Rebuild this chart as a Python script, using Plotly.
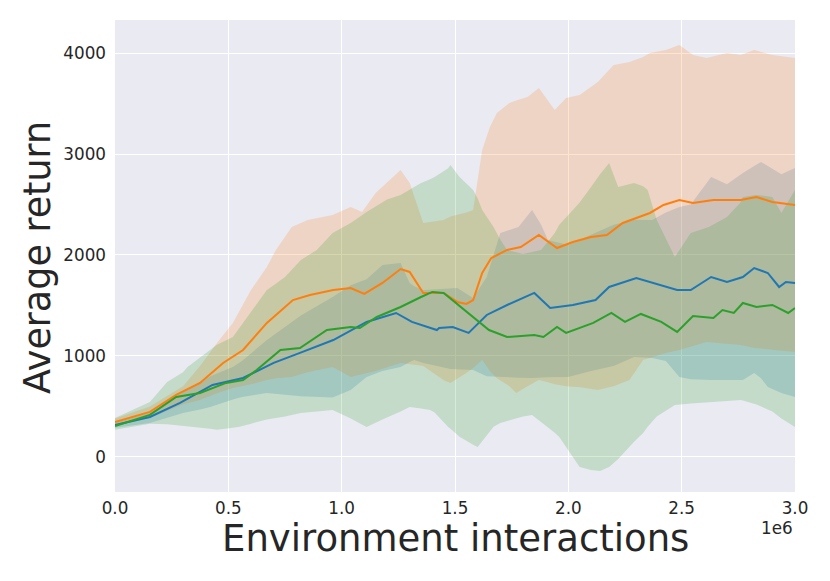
import plotly.graph_objects as go

# ---------------- data (x in millions of interactions) ----------------
blue_x = [0.0, 0.154, 0.287, 0.43, 0.565, 0.70, 0.816, 0.963, 1.11, 1.24, 1.31, 1.42, 1.43, 1.49, 1.56, 1.64, 1.73, 1.85, 1.92, 2.02, 2.12, 2.18, 2.30, 2.37, 2.48, 2.54, 2.63, 2.70, 2.77, 2.82, 2.88, 2.93, 2.96, 3.0]
blue_y = [317, 396, 535, 713, 782, 931, 1030, 1158, 1337, 1426, 1337, 1257, 1277, 1287, 1228, 1406, 1505, 1624, 1475, 1505, 1554, 1683, 1772, 1723, 1653, 1653, 1782, 1733, 1782, 1871, 1822, 1683, 1733, 1723]

orange_x = [0.0, 0.154, 0.27, 0.375, 0.477, 0.565, 0.67, 0.785, 0.86, 0.963, 1.04, 1.10, 1.18, 1.26, 1.30, 1.36, 1.45, 1.51, 1.55, 1.58, 1.62, 1.66, 1.73, 1.79, 1.87, 1.95, 2.02, 2.10, 2.17, 2.24, 2.36, 2.42, 2.49, 2.55, 2.64, 2.76, 2.83, 2.90, 3.0]
orange_y = [347, 446, 614, 733, 931, 1059, 1327, 1554, 1604, 1653, 1673, 1614, 1723, 1861, 1832, 1624, 1624, 1535, 1515, 1554, 1822, 1970, 2050, 2079, 2198, 2069, 2129, 2178, 2198, 2317, 2416, 2495, 2545, 2515, 2545, 2545, 2574, 2525, 2495]

green_x = [0.0, 0.154, 0.27, 0.375, 0.49, 0.565, 0.625, 0.73, 0.816, 0.935, 1.04, 1.08, 1.155, 1.26, 1.35, 1.40, 1.45, 1.51, 1.58, 1.65, 1.73, 1.85, 1.89, 1.95, 1.99, 2.11, 2.19, 2.25, 2.32, 2.41, 2.48, 2.55, 2.64, 2.68, 2.73, 2.77, 2.83, 2.90, 2.97, 3.0]
green_y = [307, 416, 594, 634, 733, 762, 861, 1059, 1079, 1257, 1287, 1277, 1386, 1485, 1584, 1634, 1624, 1515, 1386, 1257, 1188, 1208, 1188, 1287, 1228, 1327, 1426, 1337, 1416, 1337, 1238, 1396, 1376, 1455, 1426, 1525, 1485, 1505, 1426, 1475]

# ---------------- bands (lower / upper) ----------------
blue_band_x = [0.0, 0.154, 0.3, 0.375, 0.42, 0.52, 0.56, 0.67, 0.82, 0.96, 1.04, 1.11, 1.18, 1.26, 1.30, 1.32, 1.36, 1.48, 1.51, 1.58, 1.64, 1.70, 1.78, 1.84, 1.88, 1.91, 2.0, 2.1, 2.2, 2.29, 2.37, 2.43, 2.49, 2.54, 2.63, 2.70, 2.77, 2.82, 2.85, 2.88, 2.94, 3.0]
blue_lo = [290, 337, 436, 470, 495, 570, 594, 634, 600, 590, 663, 792, 850, 891, 940, 960, 931, 870, 865, 861, 800, 790, 785, 782, 785, 790, 792, 850, 900, 990, 980, 950, 792, 770, 762, 762, 762, 832, 780, 693, 634, 594]
blue_hi = [337, 436, 640, 733, 800, 891, 950, 1158, 1400, 1584, 1700, 1760, 1900, 1921, 1723, 1690, 1653, 1665, 1673, 1574, 1782, 2218, 2277, 2445, 2300, 2149, 2100, 2200, 2300, 2350, 2346, 2420, 2475, 2500, 2772, 2700, 2812, 2880, 2921, 2880, 2800, 2861]

orange_band_x = [0.0, 0.154, 0.3, 0.375, 0.45, 0.52, 0.60, 0.67, 0.71, 0.78, 0.85, 0.96, 1.04, 1.09, 1.15, 1.26, 1.30, 1.36, 1.45, 1.48, 1.55, 1.58, 1.62, 1.654, 1.685, 1.74, 1.77, 1.82, 1.87, 1.91, 1.94, 1.99, 2.05, 2.13, 2.20, 2.27, 2.33, 2.36, 2.43, 2.49, 2.55, 2.61, 2.70, 2.76, 2.82, 2.90, 3.0]
orange_lo = [310, 386, 520, 564, 630, 683, 720, 762, 780, 792, 840, 891, 792, 820, 850, 931, 920, 900, 760, 733, 832, 880, 960, 850, 780, 700, 634, 700, 762, 740, 720, 700, 690, 663, 700, 762, 960, 980, 1030, 1060, 1100, 1139, 1120, 1109, 1080, 1059, 1040]
orange_hi = [380, 500, 700, 900, 1129, 1327, 1653, 1881, 2050, 2277, 2346, 2396, 2475, 2425, 2614, 2842, 2713, 2317, 2346, 2380, 2420, 2445, 3040, 3267, 3406, 3505, 3530, 3564, 3653, 3535, 3436, 3554, 3584, 3713, 3881, 3911, 3960, 4000, 4030, 4079, 3980, 3950, 4000, 3980, 4030, 3980, 3950]

green_band_x = [0.0, 0.154, 0.23, 0.3, 0.32, 0.42, 0.45, 0.52, 0.55, 0.60, 0.67, 0.70, 0.75, 0.82, 0.89, 0.96, 1.04, 1.11, 1.18, 1.2, 1.26, 1.30, 1.35, 1.39, 1.41, 1.47, 1.48, 1.52, 1.58, 1.60, 1.62, 1.67, 1.70, 1.73, 1.80, 1.84, 1.88, 1.94, 1.96, 2.02, 2.05, 2.10, 2.14, 2.18, 2.22, 2.25, 2.29, 2.33, 2.35, 2.39, 2.47, 2.54, 2.60, 2.62, 2.70, 2.76, 2.77, 2.83, 2.85, 2.90, 2.94, 3.0]
green_lo = [270, 330, 325, 310, 305, 280, 270, 290, 300, 330, 370, 380, 400, 436, 450, 465, 380, 297, 370, 396, 450, 495, 480, 465, 440, 297, 280, 200, 120, 99, 150, 300, 337, 360, 400, 416, 350, 240, 198, 0, -100, -130, -139, -100, -20, 50, 150, 238, 300, 400, 515, 530, 540, 545, 555, 564, 560, 520, 500, 450, 380, 297]
green_hi = [386, 545, 743, 840, 891, 1059, 1110, 1188, 1280, 1426, 1653, 1700, 1782, 1950, 2050, 2218, 2317, 2426, 2525, 2550, 2594, 2644, 2713, 2750, 2772, 2860, 2891, 2772, 2644, 2560, 2445, 2277, 2150, 2050, 2010, 2030, 2050, 2218, 2300, 2445, 2520, 2673, 2800, 2911, 2673, 2690, 2713, 2680, 2644, 2346, 1980, 2218, 2260, 2277, 2376, 2520, 2574, 2594, 2590, 2574, 2416, 2644]

x_ticks = [0.0, 0.5, 1.0, 1.5, 2.0, 2.5, 3.0]
x_tick_labels = ["0.0", "0.5", "1.0", "1.5", "2.0", "2.5", "3.0"]
y_ticks = [0, 1000, 2000, 3000, 4000]
y_tick_labels = ["0", "1000", "2000", "3000", "4000"]

SCALE = 1e6
COLORS = {"blue": "#1f77b4", "orange": "#ff7f0e", "green": "#2ca02c"}
FILLS = {"blue": "rgba(31,119,180,0.2)", "orange": "rgba(255,127,14,0.2)", "green": "rgba(44,160,44,0.2)"}

fig = go.Figure()

def add_band(name, bx, lo, hi):
    xs = [v * SCALE for v in bx]
    fig.add_trace(go.Scatter(
        x=xs + xs[::-1], y=list(hi) + list(lo)[::-1],
        fill="toself", fillcolor=FILLS[name], line=dict(width=0),
        mode="lines", hoverinfo="skip", showlegend=False))

def add_line(name, lx, ly):
    fig.add_trace(go.Scatter(
        x=[v * SCALE for v in lx], y=ly, mode="lines",
        line=dict(color=COLORS[name], width=2), showlegend=False))

add_band("blue", blue_band_x, blue_lo, blue_hi)
add_band("orange", orange_band_x, orange_lo, orange_hi)
add_band("green", green_band_x, green_lo, green_hi)
add_line("blue", blue_x, blue_y)
add_line("orange", orange_x, orange_y)
add_line("green", green_x, green_y)

font_fam = "DejaVu Sans"
txt_col = "#262626"

# page body has an 8px margin: plot area targets x 115..795, y 20..492 in the window
fig.update_layout(
    width=830, height=581,
    margin=dict(l=107, r=43, t=12, b=97),
    paper_bgcolor="white", plot_bgcolor="#EAEAF2",
    font=dict(family=font_fam, color=txt_col, size=17),
    xaxis=dict(range=[0, 3.0 * SCALE], tickvals=[v * SCALE for v in x_ticks], ticktext=x_tick_labels,
               showgrid=True, gridcolor="white", gridwidth=1.3, zeroline=False, showline=False,
               ticks="", ticklabelstandoff=4, tickfont=dict(size=16.8, color=txt_col)),
    yaxis=dict(range=[-347, 4327], tickvals=y_ticks, ticktext=y_tick_labels,
               showgrid=True, gridcolor="white", gridwidth=1.3, zeroline=False, showline=False,
               ticks="", ticklabelstandoff=8, tickfont=dict(size=16.8, color=txt_col)),
    annotations=[
        dict(text="Environment interactions", xref="paper", yref="paper", x=0.5, y=-0.098,
             xanchor="center", yanchor="middle", showarrow=False, font=dict(size=37, color=txt_col, family=font_fam)),
        dict(text="Average return", xref="paper", yref="paper", x=-0.113, y=0.496, textangle=-90,
             xanchor="center", yanchor="middle", showarrow=False, font=dict(size=36.5, color=txt_col, family=font_fam)),
        dict(text="1e6", xref="paper", yref="paper", x=0.974, y=-0.076,
             xanchor="center", yanchor="middle", showarrow=False, font=dict(size=16.8, color=txt_col, family=font_fam)),
    ],
)

fig.write_html("out.html")
